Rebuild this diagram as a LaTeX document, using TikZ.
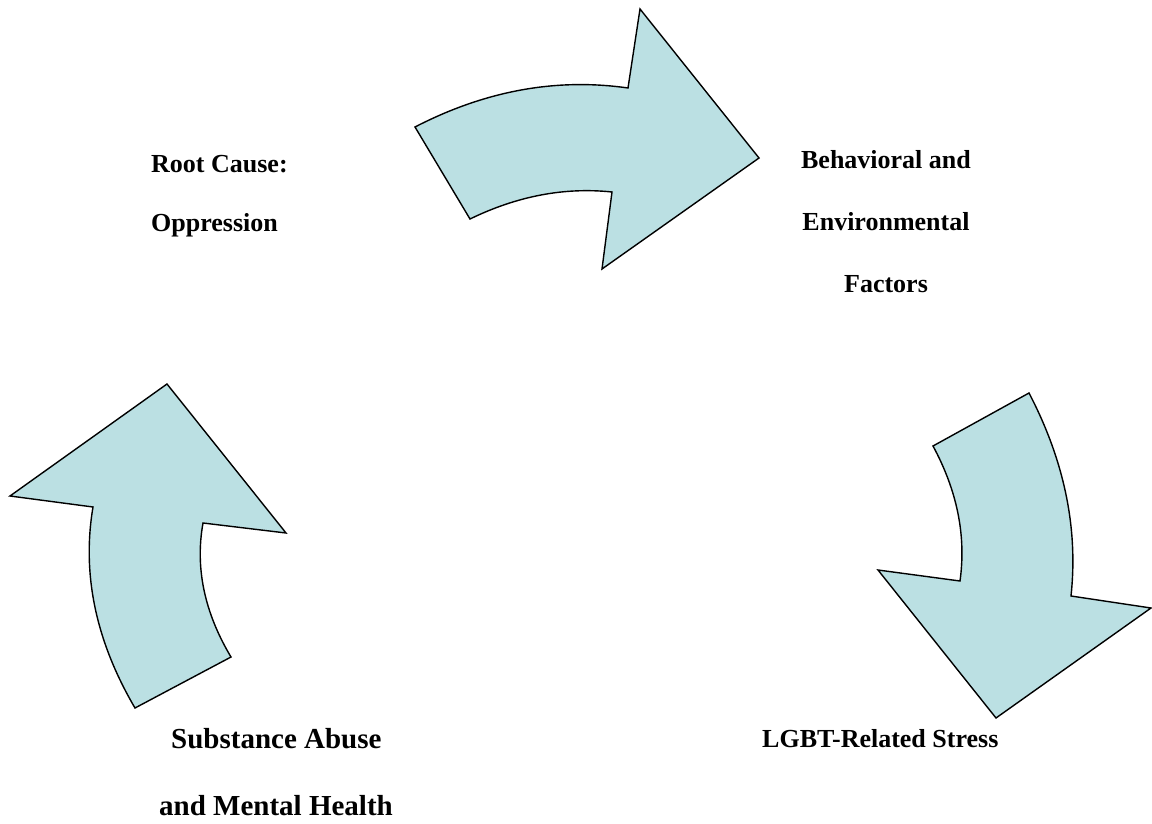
\documentclass[tikz,border=0pt]{standalone}
\usepackage{fontspec}
\setmainfont{Liberation Serif}
\definecolor{arrowfill}{RGB}{187,224,227}
\tikzset{
  bigarrow/.style={draw=black, fill=arrowfill, line width=1.4pt, line join=miter},
  lbl/.style={inner sep=0pt, font=\bfseries\fontsize{26}{26}\selectfont},
  lblbig/.style={inner sep=0pt, font=\bfseries\fontsize{29}{29}\selectfont}
}
\begin{document}
\begin{tikzpicture}[x=1pt,y=-1pt]
\useasboundingbox (0,0) rectangle (1152,824);
% top arrow
\draw[bigarrow] (415,127) -- (470,219)
  .. controls (517.3,196) and (564.7,187) .. (612,192)
  -- (602,269) -- (759,158) -- (640,9) -- (628,88)
  .. controls (556.3,77.7) and (485.3,90.7) .. (415,127) -- cycle;
% right arrow
\draw[bigarrow] (933,446) -- (1029,393)
  .. controls (1064.3,460.7) and (1078.3,528.3) .. (1071,596)
  -- (1151,608) -- (996,718) -- (878,570) -- (960,581)
  .. controls (966.3,536) and (957.3,491) .. (933,446) -- cycle;
% left arrow
\draw[bigarrow] (167,384) -- (10,496) -- (93,507)
  .. controls (81.7,574) and (95.7,641) .. (135,708)
  -- (231,657)
  .. controls (204.3,612.3) and (195,567.7) .. (203,523)
  -- (286,533) -- cycle;
% labels
\node[lbl, anchor=base west] (root1) at (151,172) {Root Cause:};
\node[lbl, anchor=base west] (root2) at (151,232) {Oppression};
\node[lbl, anchor=base] (beh1) at (886,168) {Behavioral and};
\node[lbl, anchor=base] (beh2) at (886,230) {Environmental};
\node[lbl, anchor=base] (beh3) at (886,292) {Factors};
\node[lbl, anchor=base west] (lgbt) at (762,747) {LGBT-Related Stress};
\node[lblbig, anchor=base west] (sub1) at (171,748) {Substance Abuse};
\node[lblbig, anchor=base west] (sub2) at (159,815) {and Mental Health};
\end{tikzpicture}
\end{document}
